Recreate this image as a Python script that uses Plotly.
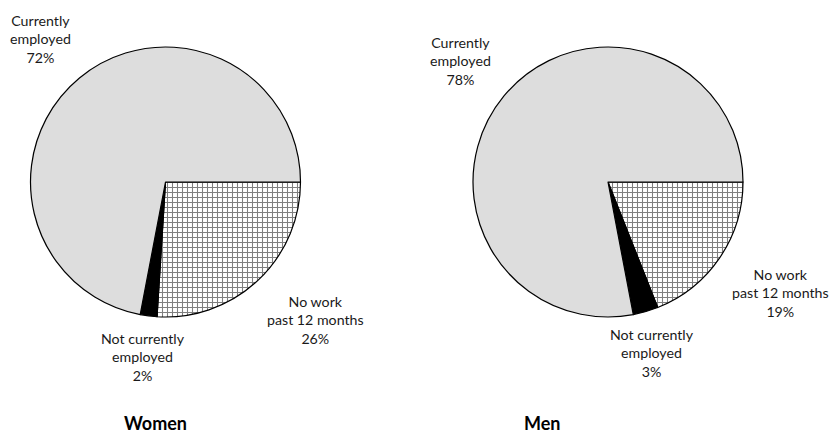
import plotly.graph_objects as go

categories = ["Currently<br>employed", "Not currently<br>employed", "No work<br>past 12 months"]
women_values = [72, 2, 26]
men_values = [78, 3, 19]
panel_titles = ["Women", "Men"]

W, H = 830, 435
FONT = "Lato, 'Open Sans', sans-serif"
colors = ["#dddddd", "#000000", "#ffffff"]
shapes = ["", "", "+"]


def dom_x(cx, r):
    return [(cx - r) / W, (cx + r) / W]


def dom_y(cy, r):
    return [1 - (cy + r) / H, 1 - (cy - r) / H]


fig = go.Figure()
R = 135
centers = [(165.5, 182), (608, 182)]
for (cx, cy), vals in zip(centers, [women_values, men_values]):
    # drawn clockwise from 3 o'clock in reverse order == counterclockwise in original order
    fig.add_trace(go.Pie(
        labels=categories[::-1],
        values=vals[::-1],
        sort=False,
        direction="clockwise",
        rotation=90,
        textinfo="none",
        hoverinfo="label+percent",
        showlegend=False,
        marker=dict(
            colors=colors[::-1],
            line=dict(color="black", width=1.2),
            pattern=dict(shape=shapes[::-1], fgcolor="black", size=5, solidity=0.38, fillmode="overlay"),
        ),
        domain=dict(x=dom_x(cx, R), y=dom_y(cy, R)),
    ))

# label positions (pixel centre of the middle line)
label_pos = [
    [(40, 39), (143, 357), (315, 320)],
    [(460, 61), (652, 353), (780, 293)],
]
annotations = []
for vals, pos in zip([women_values, men_values], label_pos):
    for cat, v, (x, y) in zip(categories, vals, pos):
        annotations.append(dict(
            x=x / W, y=1 - y / H, xref="paper", yref="paper",
            text=f"{cat}<br>{v}%", showarrow=False,
            xanchor="center", yanchor="middle", align="center",
            font=dict(family=FONT, size=14.2, color="#1a1a1a"),
        ))

for t, x in zip(panel_titles, [155, 542]):
    annotations.append(dict(
        x=x / W, y=1 - 423 / H, xref="paper", yref="paper",
        text=f"<b>{t}</b>", showarrow=False,
        xanchor="center", yanchor="middle",
        font=dict(family=FONT, size=18, color="#000000"),
    ))

fig.update_layout(
    width=W, height=H,
    margin=dict(l=0, r=0, t=0, b=0),
    paper_bgcolor="white", plot_bgcolor="white",
    annotations=annotations,
    font=dict(family=FONT),
)

fig.write_html("out.html", config={"displayModeBar": False},
               post_script="document.body.style.margin='0';")
